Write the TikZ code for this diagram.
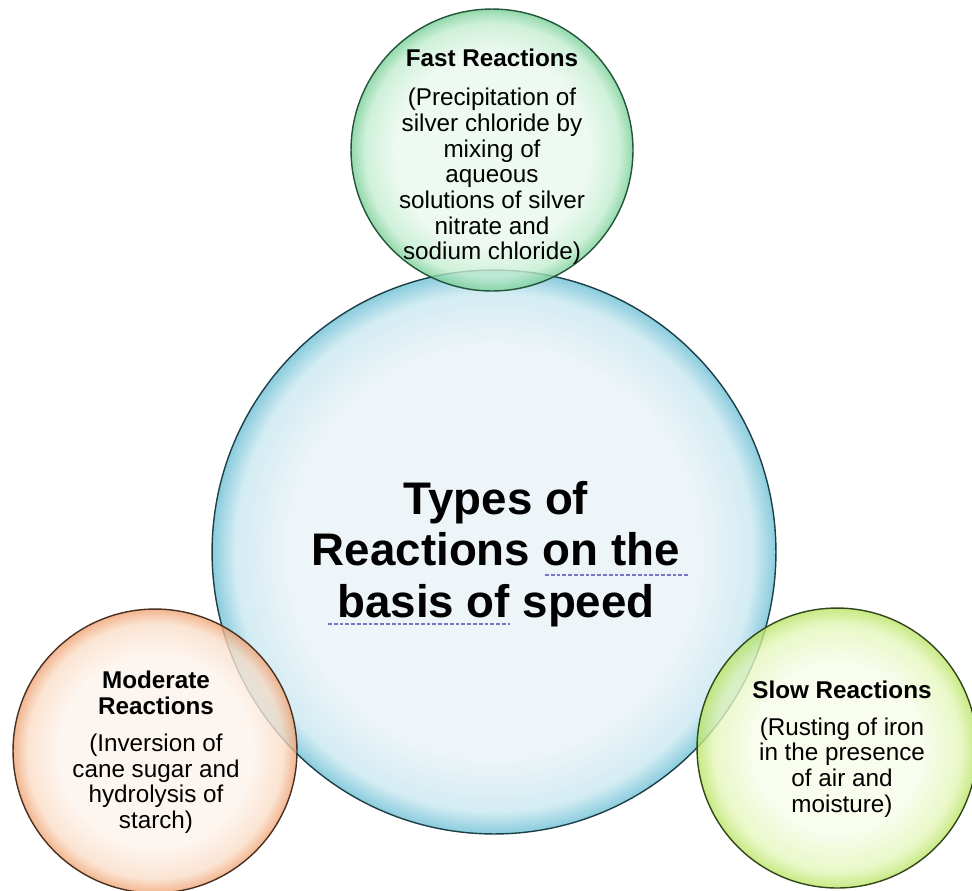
\documentclass[tikz,border=0pt]{standalone}
\usepackage{fontspec}
\setmainfont{Liberation Sans}
\usetikzlibrary{positioning}

\definecolor{blueIn}{HTML}{EEF5F8}
\definecolor{blueMid}{HTML}{D3ECF3}
\definecolor{blueOut}{HTML}{8ACCDD}
\definecolor{blueLine}{HTML}{1D3F48}
\definecolor{greenIn}{HTML}{EAF8EF}
\definecolor{greenMid}{HTML}{C3EDD0}
\definecolor{greenOut}{HTML}{78CF96}
\definecolor{greenLine}{HTML}{24543A}
\definecolor{peachIn}{HTML}{FDF3EB}
\definecolor{peachMid}{HTML}{FADDC7}
\definecolor{peachOut}{HTML}{EFA374}
\definecolor{peachLine}{HTML}{4A3020}
\definecolor{limeIn}{HTML}{F7FCEA}
\definecolor{limeMid}{HTML}{E4F6B9}
\definecolor{limeOut}{HTML}{B9E465}
\definecolor{limeLine}{HTML}{33461A}
\definecolor{spellBlue}{HTML}{7C73C4}

% the path box fills the inner 50bp square of a shading
\pgfdeclareradialshading{bubbleblue}{\pgfpoint{0bp}{0bp}}{color(0bp)=(blueIn); color(18bp)=(blueIn); color(23bp)=(blueMid); color(25bp)=(blueOut); color(50bp)=(blueOut)}
\pgfdeclareradialshading{bubblegreen}{\pgfpoint{0bp}{0bp}}{color(0bp)=(greenIn); color(17bp)=(greenIn); color(22.5bp)=(greenMid); color(25bp)=(greenOut); color(50bp)=(greenOut)}
\pgfdeclareradialshading{bubblepeach}{\pgfpoint{0bp}{0bp}}{color(0bp)=(peachIn); color(17bp)=(peachIn); color(22.5bp)=(peachMid); color(25bp)=(peachOut); color(50bp)=(peachOut)}
\pgfdeclareradialshading{bubblelime}{\pgfpoint{0bp}{0bp}}{color(0bp)=(limeIn); color(15bp)=(limeIn); color(22bp)=(limeMid); color(25bp)=(limeOut); color(50bp)=(limeOut)}

\begin{document}
\begin{tikzpicture}[x=0.02cm, y=-0.02cm,
    bubble/.style={circle, shade, draw, line width=0.8pt, inner sep=0pt},
    small/.style={font=\fontsize{13.8}{14.6}\selectfont, align=center, inner sep=0pt, anchor=north},
    big/.style={font=\fontsize{26}{29.2}\selectfont\bfseries, align=center, inner sep=0pt, anchor=north},
    spell/.style={draw=spellBlue, line width=1.1pt, dash pattern=on 2.2pt off 1.1pt}]
    \useasboundingbox (0,0) rectangle (972,890);
    % bubbles
    \node[bubble, shading=bubbleblue, draw=blueLine, minimum size=11.28cm] (speed) at (494,552) {};
    \node[bubble, shading=bubblegreen, draw=greenLine, fill opacity=0.8, minimum size=5.64cm] (fast) at (492,150) {};
    \node[bubble, shading=bubblepeach, draw=peachLine, fill opacity=0.8, minimum size=5.68cm] (moderate) at (155,751) {};
    \node[bubble, shading=bubblelime, draw=limeLine, fill opacity=0.8, minimum size=5.6cm] (slow) at (837,748) {};
    % texts
    \node[big] (speedtxt) at (496,481) {Types of\\Reactions on the\\basis of speed};
    \node[small] (fasttxt) at (492,49) {\textbf{Fast Reactions}\\[7.5pt](Precipitation of\\silver chloride by\\mixing of\\aqueous\\solutions of silver\\nitrate and\\sodium chloride)};
    \node[small] (moderatetxt) at (156,671) {\textbf{Moderate}\\\textbf{Reactions}\\[6.5pt](Inversion of\\cane sugar and\\hydrolysis of\\starch)};
    \node[small] (slowtxt) at (842,681) {\textbf{Slow Reactions}\\[6pt](Rusting of iron\\in the presence\\of air and\\moisture)};
    % spell check marks
    \draw[spell] (545,575) -- (688,575);
    \draw[spell] (328,624) -- (510,624);
\end{tikzpicture}
\end{document}
